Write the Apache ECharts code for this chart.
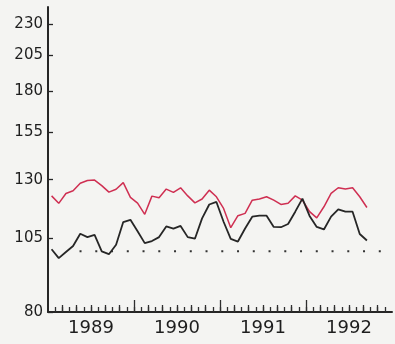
<!DOCTYPE html>
<html>
<head>
<meta charset="utf-8">
<script src="https://cdn.jsdelivr.net/npm/echarts@6/dist/echarts.min.js"></script>
<style>
  html, body { margin: 0; padding: 0; background: #f4f4f2; }
  #chart { width: 395px; height: 344px; }
</style>
</head>
<body>
<div id="chart"></div>
<script>
// monthly values, Jan 1989 .. Sep 1992
const redSeries = [
  122.5, 119.2, 123.6, 124.8, 128.3, 129.6, 129.8, 127.2, 124.2, 125.5, 128.6, 121.8,
  119.3, 114.5, 122.4, 121.7, 125.6, 124.1, 126.2, 122.5, 119.4, 121.1, 125.1, 122.1,
  117.0, 109.0, 113.9, 114.9, 120.6, 121.1, 122.1, 120.6, 118.7, 119.2, 122.5, 120.6,
  115.6, 113.0, 117.7, 123.6, 126.2, 125.6, 126.2, 122.1, 117.4
]
const blackSeries = [
  100.7, 97.5, 99.7, 101.9, 106.6, 105.3, 106.2, 99.9, 98.9, 102.4, 111.3, 112.2,
  107.6, 103.0, 103.8, 105.3, 109.5, 108.6, 109.7, 105.3, 104.7, 112.8, 118.7, 119.8,
  111.4, 104.6, 103.6, 108.7, 113.5, 113.9, 113.9, 109.3, 109.2, 110.5, 115.6, 121.3,
  113.8, 109.3, 108.3, 113.5, 116.6, 115.6, 115.6, 106.5, 104.0
]
const refValue = 100
const refStart = 4.4   // month where the dotted line becomes visible
const yTicks = [80, 105, 130, 155, 180, 205, 230]
const years = ['1989', '1990', '1991', '1992']

const monthPoints = vals => vals.map((v, i) => [i + 0.5, v])
const monthTicks = []
for (let m = 1; m < 48; m++) monthTicks.push(m)
const evenTicks = monthTicks.filter(m => m % 2 === 0 && m % 12 !== 0)
const yearTicks = [12, 24, 36]
const yearCenters = years.map((y, i) => i * 12 + 6)

const chart = echarts.init(document.getElementById('chart'))

const axisColor = '#262626'
const baseX = {
  type: 'value',
  min: 0,
  max: 48,
  position: 'bottom',
  splitLine: { show: false },
  axisLine: { show: false },
  axisLabel: { show: false }
}

chart.setOption({
  backgroundColor: '#f4f4f2',
  animation: false,
  grid: { left: 48, right: 3, top: 7, bottom: 32 },
  xAxis: [
    {
      ...baseX,
      axisLine: { show: true, onZero: false, lineStyle: { color: axisColor, width: 2 } },
      axisTick: { show: true, inside: true, length: 5, customValues: monthTicks, lineStyle: { color: '#2e2e2e', width: 1.3 } },
      axisLabel: {
        show: true,
        customValues: yearCenters,
        formatter: v => years[Math.round((v - 6) / 12)],
        color: '#1e1e1e',
        fontFamily: 'DejaVu Sans',
        fontSize: 18,
        margin: 7
      }
    },
    {
      ...baseX,
      axisTick: { show: true, inside: true, length: 7, customValues: evenTicks, lineStyle: { color: '#2e2e2e', width: 1.3 } }
    },
    {
      ...baseX,
      axisTick: { show: true, inside: true, length: 12, customValues: yearTicks, lineStyle: { color: '#2e2e2e', width: 1.3 } }
    }
  ],
  yAxis: {
    type: 'log',
    min: 80,
    max: 245,
    splitLine: { show: false },
    axisLine: { show: true, lineStyle: { color: axisColor, width: 2 } },
    axisTick: { show: true, inside: true, length: 5, customValues: yTicks, lineStyle: { color: axisColor, width: 1.3 } },
    axisLabel: {
      customValues: yTicks,
      formatter: v => String(Math.round(v)),
      color: '#1e1e1e',
      fontFamily: 'DejaVu Sans',
      fontSize: 15,
      margin: 5
    }
  },
  series: [
    {
      type: 'line',
      data: [[refStart, refValue], [48, refValue]],
      symbol: 'none',
      lineStyle: { color: '#333', width: 2, type: [2, 13.75] },
      z: 1
    },
    {
      type: 'line',
      data: monthPoints(redSeries),
      symbol: 'none',
      lineStyle: { color: '#cf2f52', width: 1.5 },
      z: 2
    },
    {
      type: 'line',
      data: monthPoints(blackSeries),
      symbol: 'none',
      lineStyle: { color: '#262626', width: 1.8 },
      z: 3
    }
  ]
})
</script>
</body>
</html>
